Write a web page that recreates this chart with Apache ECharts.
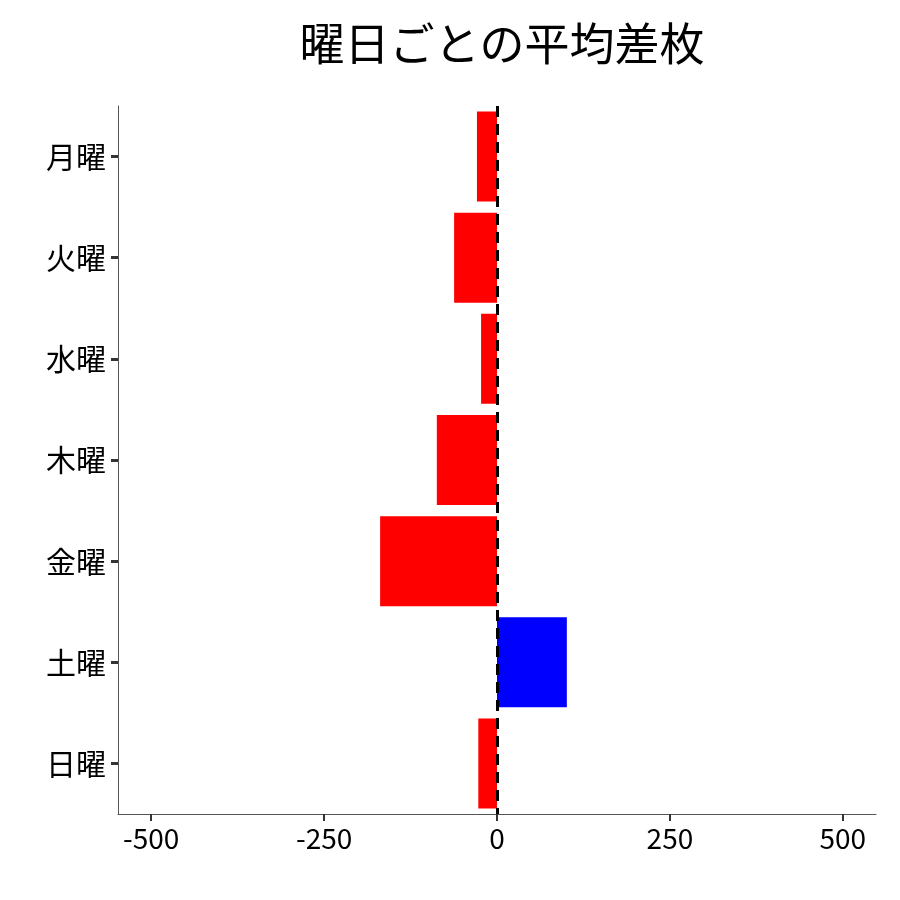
<!DOCTYPE html>
<html>
<head>
<meta charset="utf-8">
<script src="https://cdn.jsdelivr.net/npm/echarts@6/dist/echarts.min.js"></script>
<style>html,body{margin:0;padding:0;background:#fff}#main{width:900px;height:900px}</style>
</head>
<body>
<div id="main"></div>
<script>
var days = ['月曜', '火曜', '水曜', '木曜', '金曜', '土曜', '日曜'];
var avgDiff = [-29, -62, -23, -87, -169, 101, -27];
var xTicks = [-500, -250, 0, 250, 500];

var chart = echarts.init(document.getElementById('main'));
var font = '"Noto Sans CJK JP", "Noto Sans", sans-serif';

var option = {
    backgroundColor: '#fff',
    title: {
        text: '曜日ごとの平均差枚',
        left: 497,
        textAlign: 'center',
        top: 16,
        textStyle: { fontFamily: font, fontSize: 45, fontWeight: 'normal', color: '#000' }
    },
    grid: { left: 118, right: 24, top: 106, bottom: 86 },
    xAxis: {
        type: 'value',
        min: -548,
        max: 548,
        axisLine: { show: true, onZero: false, lineStyle: { color: '#555', width: 1 } },
        axisTick: { show: true, customValues: xTicks, length: 7, lineStyle: { color: '#333', width: 2 } },
        axisLabel: { customValues: xTicks, fontFamily: font, fontSize: 28, color: '#000', margin: 10 },
        splitLine: { show: false }
    },
    yAxis: {
        type: 'category',
        data: days,
        inverse: true,
        axisLine: { show: true, onZero: false, lineStyle: { color: '#555', width: 1 } },
        axisTick: { show: true, alignWithLabel: true, length: 7, lineStyle: { color: '#333', width: 3 } },
        axisLabel: { fontFamily: font, fontSize: 30, color: '#000', margin: 12 }
    },
    series: [{
        type: 'bar',
        barCategoryGap: '11%',
        data: avgDiff.map(function (v) {
            return { value: v, itemStyle: { color: v >= 0 ? '#0000ff' : '#ff0000' } };
        }),
        markLine: {
            silent: true,
            symbol: 'none',
            label: { show: false },
            lineStyle: { color: '#000', type: [11, 7], width: 3 },
            data: [{ xAxis: 0 }]
        }
    }]
};
chart.setOption(option);
</script>
</body>
</html>
